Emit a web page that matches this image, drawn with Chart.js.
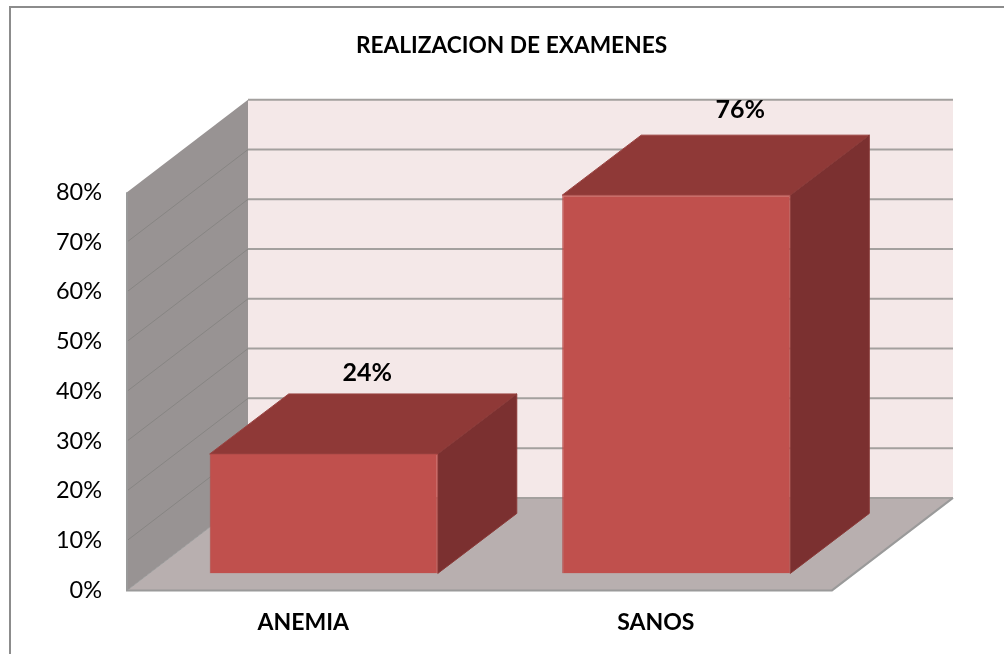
<!DOCTYPE html>
<html>
<head>
<meta charset="utf-8">
<style>
  html, body { margin: 0; padding: 0; background: #fff; overflow: hidden; }
  #wrap { position: relative; width: 1004px; height: 654px; }
  #frame { position: absolute; left: 9px; top: 6px; width: 1100px; height: 700px; border: 2px solid #8c8c8c; box-sizing: border-box; }
  canvas { position: absolute; left: 0; top: 0; }
</style>
</head>
<body>
<div id="wrap">
  <div id="frame"></div>
  <canvas id="chart" width="1004" height="654"></canvas>
</div>
<script src="https://cdn.jsdelivr.net/npm/chart.js@4/dist/chart.umd.js"></script>
<script>
const categories = ['ANEMIA', 'SANOS'];
const valores = [24, 76];
const yTicks = [0, 10, 20, 30, 40, 50, 60, 70, 80];
const titulo = 'REALIZACION DE EXAMENES';

// 3d offsets in px
const wallDepth = { x: 121, y: -92.5 };
const barDepth = { x: 79, y: -60 };
const barShift = { x: 20.5, y: -17 };
// the labels were dragged by hand in the original, so each has its own offset
const labelShift = [{ x: 43.5, y: -81 }, { x: 64, y: -85 }];

function poly(ctx, pts, fill, stroke) {
  ctx.beginPath();
  pts.forEach((p, i) => i ? ctx.lineTo(p[0], p[1]) : ctx.moveTo(p[0], p[1]));
  ctx.closePath();
  ctx.fillStyle = fill;
  ctx.fill();
  if (stroke) {
    ctx.strokeStyle = stroke;
    ctx.lineWidth = 1;
    ctx.stroke();
  }
}

// walls and floor go behind the bars, the bars get moved onto the floor
const box3d = {
  id: 'box3d',
  beforeDatasetsDraw(chart) {
    const { ctx, chartArea: a, scales: { y } } = chart;
    const dx = wallDepth.x, dy = wallDepth.y;
    ctx.save();
    poly(ctx, [[a.left + dx, a.top + dy], [a.right + dx, a.top + dy], [a.right + dx, a.bottom + dy], [a.left + dx, a.bottom + dy]], '#f4e8e8');
    poly(ctx, [[a.left, a.top], [a.left + dx, a.top + dy], [a.left + dx, a.bottom + dy], [a.left, a.bottom]], '#989393');
    poly(ctx, [[a.left, a.bottom], [a.right, a.bottom], [a.right + dx, a.bottom + dy], [a.left + dx, a.bottom + dy]], '#b8afaf');
    yTicks.forEach(t => {
      const py = y.getPixelForValue(t);
      ctx.strokeStyle = '#a3a09e';
      ctx.lineWidth = 2;
      ctx.beginPath();
      ctx.moveTo(a.left + dx, py + dy);
      ctx.lineTo(a.right + dx, py + dy);
      ctx.stroke();
      if (t > 0 && t < 80) {
        ctx.strokeStyle = '#878583';
        ctx.lineWidth = 1;
        ctx.beginPath();
        ctx.moveTo(a.left, py);
        ctx.lineTo(a.left + dx, py + dy);
        ctx.stroke();
      }
    });
    // outline of the box
    ctx.strokeStyle = '#9a9a9a';
    ctx.lineWidth = 2;
    ctx.beginPath();
    ctx.moveTo(a.left, a.top);
    ctx.lineTo(a.left, a.bottom);
    ctx.lineTo(a.right, a.bottom);
    ctx.lineTo(a.right + dx, a.bottom + dy);
    ctx.stroke();
    ctx.lineWidth = 1;
    ctx.beginPath();
    ctx.moveTo(a.left, a.bottom);
    ctx.lineTo(a.left + dx, a.bottom + dy);
    ctx.stroke();
    ctx.restore();

    // side and top faces of each bar, before the front face
    chart.getDatasetMeta(0).data.forEach(bar => {
      const p = bar.getProps(['x', 'y', 'base', 'width']);
      const l = p.x - p.width / 2 + barShift.x;
      const r = p.x + p.width / 2 + barShift.x;
      const t = p.y + barShift.y;
      const b = p.base + barShift.y;
      poly(ctx, [[l, t], [r, t], [r + barDepth.x, t + barDepth.y], [l + barDepth.x, t + barDepth.y]], '#8f3937', '#9a4341');
      poly(ctx, [[r, t], [r + barDepth.x, t + barDepth.y], [r + barDepth.x, b + barDepth.y], [r, b]], '#7b3030', '#8a3a38');
    });
    ctx.save();
    ctx.translate(barShift.x, barShift.y);
  },
  afterDatasetsDraw(chart) {
    const { ctx } = chart;
    ctx.restore();
    ctx.save();
    ctx.fillStyle = '#000';
    ctx.font = 'bold 25px Lato, sans-serif';
    ctx.textAlign = 'center';
    ctx.textBaseline = 'middle';
    chart.getDatasetMeta(0).data.forEach((bar, i) => {
      const p = bar.getProps(['x', 'y']);
      ctx.fillText(valores[i] + '%', p.x + barShift.x + labelShift[i].x, p.y + barShift.y + labelShift[i].y);
    });
    ctx.restore();
  }
};

new Chart(document.getElementById('chart'), {
  type: 'bar',
  data: {
    labels: categories,
    datasets: [{
      data: valores,
      backgroundColor: '#c0504d',
      borderColor: '#b64c49',
      borderWidth: 1,
      barPercentage: 0.647,
      categoryPercentage: 1
    }]
  },
  plugins: [box3d],
  options: {
    responsive: false,
    animation: false,
    layout: { padding: { left: 19, right: 0, top: 0, bottom: 8 } },
    plugins: {
      legend: { display: false },
      tooltip: { enabled: false },
      title: {
        display: true,
        text: titulo,
        color: '#000',
        font: { family: 'Lato, sans-serif', size: 22.7, weight: 'bold' },
        padding: { top: 32, bottom: 133 }
      }
    },
    scales: {
      x: {
        grid: { display: false },
        border: { display: false },
        ticks: {
          color: '#000',
          padding: 10,
          font: { family: 'Lato, sans-serif', size: 23, weight: 'bold' }
        }
      },
      y: {
        min: 0,
        max: 80,
        afterBuildTicks(axis) { axis.ticks = yTicks.map(v => ({ value: v })); },
        afterFit(axis) { axis.width = 108; },
        grid: { display: false },
        border: { display: false },
        ticks: {
          color: '#000',
          padding: 17,
          callback: v => v + '%',
          font: { family: 'Lato, sans-serif', size: 23.5 }
        }
      },
      // empty axis on the right, leaves room for the depth of the box
      derecha: {
        position: 'right',
        afterFit(axis) { axis.width = 172; },
        grid: { display: false },
        border: { display: false },
        ticks: { display: false }
      }
    }
  }
});
</script>
</body>
</html>
